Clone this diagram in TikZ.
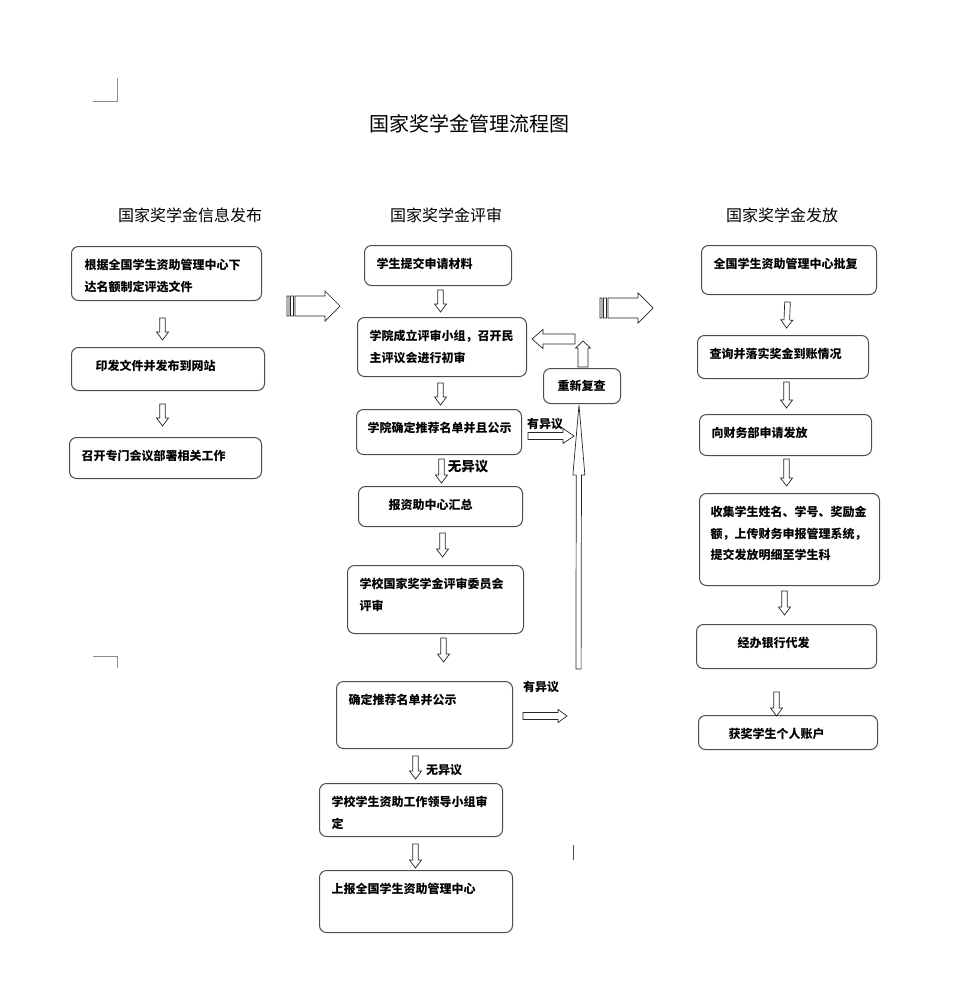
\documentclass[tikz,border=0pt]{standalone}
\usepackage{fontspec}
\setmainfont{Noto Sans CJK SC}
\usetikzlibrary{calc}

\def\hlen{8pt}
\def\hhalf{6pt}
\def\shalf{2.8pt}
\tikzset{
  box/.style={draw=black!70, line width=1pt, rounded corners=7pt, anchor=north west,
    align=left, inner xsep=12pt, inner ysep=0pt, text height=23pt,
    font=\bfseries\fontsize{12}{21.5}\selectfont},
  colhead/.style={font=\fontsize{16}{16}\selectfont},
  note/.style={inner sep=0pt, font=\bfseries\fontsize{12}{12}\selectfont},
  hlen/.code={\def\hlen{#1}},
  hhalf/.code={\def\hhalf{#1}},
  shalf/.code={\def\shalf{#1}},
  hollow/.style={draw=black!85, line width=0.7pt, to path={
    (\tikztotarget) coordinate (hT) (\tikztostart) coordinate (hS)
    ($(hT)!\hlen!(hS)$) coordinate (hB)
    ($(hS)!\shalf!-90:(hT)$) -- ($(hB)!\shalf!-90:(hT)$) -- ($(hB)!\hhalf!-90:(hT)$)
    -- (hT) -- ($(hB)!\hhalf!90:(hT)$) -- ($(hB)!\shalf!90:(hT)$)
    -- ($(hS)!\shalf!90:(hT)$) -- cycle}},
  cropmark/.style={draw=black!45, line width=0.8pt}
}

\begin{document}
\begin{tikzpicture}[x=1pt,y=-1pt]
\useasboundingbox (0,0) rectangle (961,1000);

% page corner marks
\draw[cropmark] (93,101) -- (117,101) -- (117,78);
\draw[cropmark] (93,656) -- (117,656) -- (117,668);
\draw[cropmark, draw=black!70] (573,845) -- (573,860);

% titles
\node[font=\fontsize{20}{20}\selectfont] (title) at (469,124) {国家奖学金管理流程图};
\node[colhead] (h1) at (190,215) {国家奖学金信息发布};
\node[colhead] (h2) at (446,215) {国家奖学金评审};
\node[colhead] (h3) at (782,215) {国家奖学金发放};

% left column
\node[box, inner xsep=13pt, text width=164pt, text depth=31pt] (L1) at (71,246) {根据全国学生资助管理中心下\\达名额制定评选文件};
\node[box, inner xsep=24pt, text width=145pt, text depth=20pt] (L2) at (71,347) {印发文件并发布到网站};
\node[box, text width=168pt, text depth=18pt] (L3) at (69,437) {召开专门会议部署相关工作};

% middle column
\node[box, text width=123pt, text depth=17pt] (M1) at (364,245) {学生提交申请材料};
\node[box, text width=145pt, text depth=36pt] (M2) at (357,317) {学院成立评审小组，召开民\\主评议会进行初审};
\node[box, inner xsep=11pt, text width=143pt, text depth=22pt] (M3) at (356,409) {学院确定推荐名单并且公示};
\node[box, inner xsep=30pt, text width=104pt, text depth=17pt] (M4) at (358,486) {报资助中心汇总};
\node[box, text width=152pt, text depth=45pt] (M5) at (347,565) {学校国家奖学金评审委员会\\评审};
\node[box, text width=152pt, text depth=44pt] (M6) at (336,681) {确定推荐名单并公示};
\node[box, text width=159pt, text depth=30pt] (M7) at (319,783) {学校学生资助工作领导小组审\\定};
\node[box, text width=169pt, text depth=39pt] (M8) at (319,870) {上报全国学生资助管理中心};
\node[box, inner xsep=14pt, text width=49pt, text height=21.5pt, text depth=13.5pt] (RC) at (543,368) {重新复查};

% right column
\node[box, text width=151pt, text depth=26pt] (R1) at (701,245) {全国学生资助管理中心批复};
\node[box, text width=147pt, text depth=20pt] (R2) at (697,335) {查询并落实奖金到账情况};
\node[box, text width=148pt, text depth=18pt] (R3) at (699,414) {向财务部申请发放};
\node[box, inner xsep=11pt, text width=158pt, text depth=69pt] (R4) at (699,493) {收集学生姓名、学号、奖励金\\额，上传财务申报管理系统，\\提交发放明细至学生科};
\node[box, inner xsep=41pt, text width=98pt, text depth=21pt] (R5) at (696,624) {经办银行代发};
\node[box, inner xsep=30pt, text width=119pt, text height=22.5pt, text depth=11.5pt] (R6) at (698,715) {获奖学生个人账户};

% down arrows
\draw[hollow] ($(L1.south)+(-4,17)$) to ($(L2.north)+(-5.5,-7)$);
\draw[hollow] ($(L2.south)+(-5.5,13)$) to ($(L3.north)+(-3,-11)$);
\draw[hollow] ($(M1.south)+(2.5,4)$) to ($(M2.north)+(-1.5,-5)$);
\draw[hollow] ($(M2.south)+(-1.5,6)$) to ($(M3.north)+(1.5,-4)$);
\draw[hollow] ($(M3.south)+(2.5,4)$) to ($(M4.north)+(1,-3)$);
\draw[hollow] ($(M4.south)+(2,6)$) to ($(M5.north)+(7,-8)$);
\draw[hollow] ($(M5.south)+(8,4)$) to ($(M6.north)+(19,-19)$);
\draw[hollow] ($(M6.south)+(-9,7)$) to ($(M7.north)+(4.5,-4)$);
\draw[hollow] ($(M7.south)+(4.5,7)$) to ($(M8.north)+(-0.5,-2)$);
\draw[hollow] ($(R1.south)+(-1.5,7)$) to ($(R2.north)+(3.5,-7)$);
\draw[hollow] ($(R2.south)+(3.5,3)$) to ($(R3.north)+(1,-6)$);
\draw[hollow] ($(R3.south)+(1,3)$) to ($(R4.north)+(-3,-7)$);
\draw[hollow] ($(R4.south)+(-5,5)$) to ($(R5.north)+(-2,-9)$);
\draw[hollow] ($(R5.south)+(-10,23)$) to ($(R6.north)+(-11.5,1)$);

\node[note, font=\bfseries\fontsize{13.5}{13.5}\selectfont] (ok1) at (468,466) {无异议};
\node[note] (ok2) at (444,770) {无异议};

% objections go back to review
\node[note] (obj1) at (545,424) {有异议};
\node[note] (obj2) at (541,687) {有异议};
\draw[hollow, hlen=11pt, hhalf=7.5pt, shalf=3.5pt] ($(M3.east)+(6,4)$) to ($(M3.east)+(52,4)$);
\draw[hollow, hlen=9pt, hhalf=6.5pt, shalf=3.5pt] ($(M6.east)+(10,1)$) to ($(M6.east)+(54,1)$);
\coordinate (back) at (578.5,669);
\draw[hollow, hlen=70pt, hhalf=6pt, shalf=2.6pt] (back) to ($(RC.south)+(-3,1)$);
\draw[hollow, hlen=7pt, hhalf=7.5pt, shalf=5pt] ($(RC.north)+(1,-1)$) to ($(RC.north)+(1,-27)$);
\draw[hollow, hlen=11pt, hhalf=9.5pt, shalf=5pt] ($(M2.east)+(48,-8)$) to ($(M2.east)+(5,-8)$);

% striped arrows between the columns
\foreach \p in {(287,306),(600,308)}
  \draw[draw=black!85, line width=0.7pt, shift={\p}]
    (0,-10) rectangle (2,10) (3.5,-10) rectangle (6.5,10)
    (8,-10) -- (38,-10) -- (38,-15) -- (53,0) -- (38,15) -- (38,10) -- (8,10) -- cycle;
\end{tikzpicture}
\end{document}
